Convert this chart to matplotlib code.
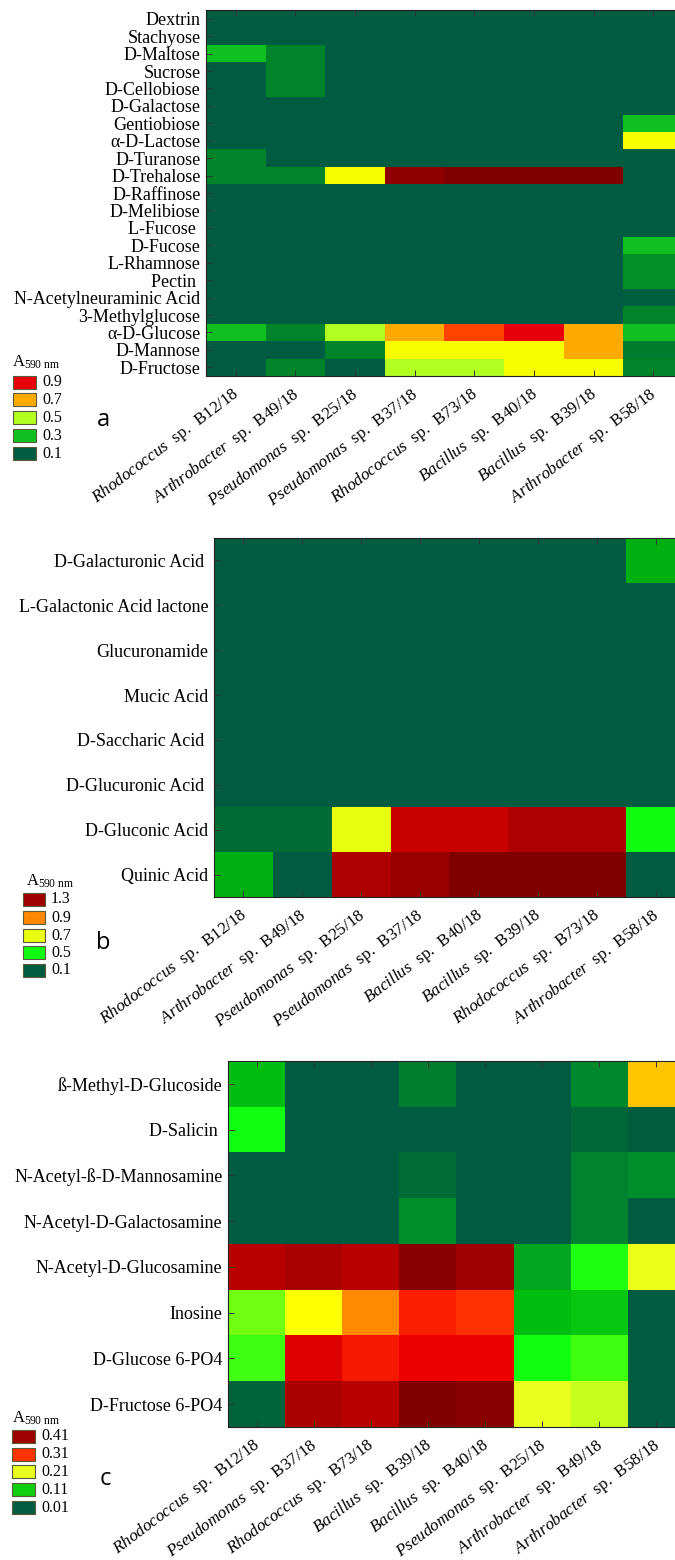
import numpy as np
import matplotlib
matplotlib.use("Agg")
import matplotlib.pyplot as plt
from matplotlib.colors import LinearSegmentedColormap, Normalize
from matplotlib.patches import Rectangle
from matplotlib.transforms import ScaledTranslation

plt.rcParams["font.family"] = ["Liberation Serif", "DejaVu Serif"]
plt.rcParams["mathtext.fontset"] = "custom"
plt.rcParams["mathtext.rm"] = "Liberation Serif"
plt.rcParams["mathtext.it"] = "Liberation Serif:italic"

# ---------------- data ----------------
rows_a = ["Dextrin", "Stachyose", "D-Maltose", "Sucrose", "D-Cellobiose", "D-Galactose",
          "Gentiobiose", "α-D-Lactose", "D-Turanose", "D-Trehalose", "D-Raffinose",
          "D-Melibiose", "L-Fucose ", "D-Fucose", "L-Rhamnose", "Pectin ",
          "N-Acetylneuraminic Acid", "3-Methylglucose", "α-D-Glucose", "D-Mannose", "D-Fructose"]
genus_a = ["Rhodococcus", "Arthrobacter", "Pseudomonas", "Pseudomonas", "Rhodococcus",
           "Bacillus", "Bacillus", "Arthrobacter"]
strain_a = ["B12/18", "B49/18", "B25/18", "B37/18", "B73/18", "B40/18", "B39/18", "B58/18"]
vals_a = [
    [0.10, 0.10, 0.10, 0.10, 0.10, 0.10, 0.10, 0.10],   # Dextrin
    [0.10, 0.10, 0.10, 0.10, 0.10, 0.10, 0.10, 0.10],   # Stachyose
    [0.30, 0.20, 0.10, 0.10, 0.10, 0.10, 0.10, 0.10],   # D-Maltose
    [0.10, 0.20, 0.10, 0.10, 0.10, 0.10, 0.10, 0.10],   # Sucrose
    [0.10, 0.20, 0.10, 0.10, 0.10, 0.10, 0.10, 0.10],   # D-Cellobiose
    [0.10, 0.10, 0.10, 0.10, 0.10, 0.10, 0.10, 0.10],   # D-Galactose
    [0.10, 0.10, 0.10, 0.10, 0.10, 0.10, 0.10, 0.30],   # Gentiobiose
    [0.10, 0.10, 0.10, 0.10, 0.10, 0.10, 0.10, 0.60],   # a-D-Lactose
    [0.20, 0.10, 0.10, 0.10, 0.10, 0.10, 0.10, 0.10],   # D-Turanose
    [0.20, 0.20, 0.60, 1.05, 1.10, 1.10, 1.10, 0.10],   # D-Trehalose
    [0.10, 0.10, 0.10, 0.10, 0.10, 0.10, 0.10, 0.10],   # D-Raffinose
    [0.10, 0.10, 0.10, 0.10, 0.10, 0.10, 0.10, 0.10],   # D-Melibiose
    [0.10, 0.10, 0.10, 0.10, 0.10, 0.10, 0.10, 0.10],   # L-Fucose
    [0.10, 0.10, 0.10, 0.10, 0.10, 0.10, 0.10, 0.30],   # D-Fucose
    [0.10, 0.10, 0.10, 0.10, 0.10, 0.10, 0.10, 0.22],   # L-Rhamnose
    [0.10, 0.10, 0.10, 0.10, 0.10, 0.10, 0.10, 0.22],   # Pectin
    [0.10, 0.10, 0.10, 0.10, 0.10, 0.10, 0.10, 0.11],   # N-Acetylneuraminic Acid
    [0.10, 0.10, 0.10, 0.10, 0.10, 0.10, 0.10, 0.20],   # 3-Methylglucose
    [0.30, 0.20, 0.50, 0.70, 0.80, 0.90, 0.70, 0.30],   # a-D-Glucose
    [0.10, 0.10, 0.20, 0.60, 0.60, 0.60, 0.70, 0.18],   # D-Mannose
    [0.10, 0.20, 0.10, 0.50, 0.50, 0.60, 0.60, 0.20],   # D-Fructose
]
legend_a = [0.9, 0.7, 0.5, 0.3, 0.1]
anchors_a_v = [0.10, 0.20, 0.30, 0.50, 0.60, 0.70, 0.80, 0.90, 1.00, 1.10]
anchors_a_c = ["#005c40", "#00852a", "#10c020", "#b0ff20", "#f5ff00", "#ffaa00",
               "#ff4500", "#e8000a", "#a00000", "#800000"]

rows_b = ["D-Galacturonic Acid ", "L-Galactonic Acid lactone", "Glucuronamide", "Mucic Acid",
          "D-Saccharic Acid ", "D-Glucuronic Acid ", "D-Gluconic Acid", "Quinic Acid"]
genus_b = ["Rhodococcus", "Arthrobacter", "Pseudomonas", "Pseudomonas", "Bacillus",
           "Bacillus", "Rhodococcus", "Arthrobacter"]
strain_b = ["B12/18", "B49/18", "B25/18", "B37/18", "B40/18", "B39/18", "B73/18", "B58/18"]
vals_b = [
    [0.10, 0.10, 0.10, 0.10, 0.10, 0.10, 0.10, 0.35],
    [0.10, 0.10, 0.10, 0.10, 0.10, 0.10, 0.10, 0.10],
    [0.10, 0.10, 0.10, 0.10, 0.10, 0.10, 0.10, 0.10],
    [0.10, 0.10, 0.10, 0.10, 0.10, 0.10, 0.10, 0.10],
    [0.10, 0.10, 0.10, 0.10, 0.10, 0.10, 0.10, 0.10],
    [0.10, 0.10, 0.10, 0.10, 0.10, 0.10, 0.10, 0.10],
    [0.17, 0.17, 0.70, 1.12, 1.12, 1.20, 1.20, 0.50],
    [0.35, 0.10, 1.20, 1.32, 1.40, 1.40, 1.40, 0.10],
]
legend_b = [1.3, 0.9, 0.7, 0.5, 0.1]
anchors_b_v = [0.10, 0.20, 0.35, 0.50, 0.70, 0.90, 1.00, 1.10, 1.20, 1.30, 1.40]
anchors_b_c = ["#005c40", "#00752e", "#00b010", "#10ff10", "#e8ff10", "#ff8800",
               "#ff2000", "#d00000", "#b00000", "#a00000", "#800000"]

rows_c = ["ß-Methyl-D-Glucoside", "D-Salicin ", "N-Acetyl-ß-D-Mannosamine",
          "N-Acetyl-D-Galactosamine", "N-Acetyl-D-Glucosamine", "Inosine",
          "D-Glucose 6-PO4", "D-Fructose 6-PO4"]
genus_c = ["Rhodococcus", "Pseudomonas", "Rhodococcus", "Bacillus", "Bacillus",
           "Pseudomonas", "Arthrobacter", "Arthrobacter"]
strain_c = ["B12/18", "B37/18", "B73/18", "B39/18", "B40/18", "B25/18", "B49/18", "B58/18"]
vals_c = [
    [0.100, 0.010, 0.010, 0.055, 0.010, 0.010, 0.065, 0.255],
    [0.130, 0.010, 0.010, 0.010, 0.010, 0.010, 0.030, 0.015],
    [0.010, 0.010, 0.010, 0.040, 0.010, 0.010, 0.060, 0.070],
    [0.010, 0.010, 0.010, 0.070, 0.010, 0.010, 0.060, 0.010],
    [0.385, 0.400, 0.385, 0.430, 0.410, 0.085, 0.135, 0.215],
    [0.160, 0.240, 0.270, 0.325, 0.310, 0.100, 0.105, 0.010],
    [0.145, 0.360, 0.330, 0.350, 0.350, 0.130, 0.145, 0.010],
    [0.025, 0.400, 0.385, 0.440, 0.430, 0.210, 0.195, 0.010],
]
legend_c = [0.41, 0.31, 0.21, 0.11, 0.01]
anchors_c_v = [0.01, 0.04, 0.07, 0.10, 0.11, 0.13, 0.16, 0.21, 0.24, 0.27, 0.31, 0.35,
               0.38, 0.41, 0.44]
anchors_c_c = ["#005c40", "#006e35", "#00902a", "#00c010", "#10d010", "#10ff10", "#70ff10",
               "#e8ff20", "#ffff00", "#ff8800", "#ff3300", "#f00000", "#c00000", "#a00000",
               "#800000"]

# ---------------- drawing ----------------
W, H = 675, 1560
fig = plt.figure(figsize=(W / 100, H / 100), dpi=100)


def make_cmap(vs, cs):
    vmin, vmax = vs[0], vs[-1]
    pos = [(v - vmin) / (vmax - vmin) for v in vs]
    return LinearSegmentedColormap.from_list("c", list(zip(pos, cs))), Normalize(vmin, vmax)


def panel(box, rows, genus, strain, vals, anchors_v, anchors_c, legend_vals, leg, letter):
    l, t, r, b = box
    ax = fig.add_axes([l / W, 1 - b / H, (r - l) / W, (b - t) / H])
    cmap, norm = make_cmap(anchors_v, anchors_c)
    ax.imshow(np.array(vals), cmap=cmap, norm=norm, aspect="auto", interpolation="nearest")
    ax.set_yticks(range(len(rows)))
    ax.set_yticklabels(rows, fontsize=13)
    ax.set_xticks(range(len(genus)))
    labels = [r"$\mathit{%s}$  sp.  %s" % (g, s) for g, s in zip(genus, strain)]
    ax.set_xticklabels(labels, rotation=37, ha="right", fontsize=12.3)
    ax.tick_params(direction="in", top=True, right=True, length=4, width=0.7,
                   color="#333333", pad=4)
    ax.tick_params(axis="x", pad=6)
    off = ScaledTranslation(8 / 100, 0, fig.dpi_scale_trans)
    for lab in ax.get_xticklabels():
        lab.set_transform(lab.get_transform() + off)
    for s in ax.spines.values():
        s.set_linewidth(0.8)
        s.set_color("#222222")
    # legend
    x0, x1, tops, ph, tx, title_xy = leg
    fig.text(title_xy[0] / W, 1 - title_xy[1] / H, r"A$_{\rm 590\ nm}$", fontsize=12,
             ha="left", va="center")
    for v, tp in zip(legend_vals, tops):
        fig.patches.append(Rectangle((x0 / W, 1 - (tp + ph) / H), (x1 - x0) / W, ph / H,
                                     transform=fig.transFigure, facecolor=cmap(norm(v)),
                                     edgecolor="#5a5a3a", linewidth=0.8))
        fig.text(tx / W, 1 - (tp + ph / 2) / H, ("%g" % v), fontsize=11.5,
                 ha="left", va="center")
    fig.text(letter[1] / W, 1 - letter[2] / H, letter[0], fontsize=17,
             family=["Open Sans", "DejaVu Sans"], ha="center", va="center")


panel((206, 10, 683, 376), rows_a, genus_a, strain_a, vals_a, anchors_a_v, anchors_a_c,
      legend_a, (13, 36, [376, 393, 411, 429, 447], 13, 42, (12, 362)), ("a", 103, 420))
panel((214, 538, 685, 897), rows_b, genus_b, strain_b, vals_b, anchors_b_v, anchors_b_c,
      legend_b, (23, 45, [893, 911, 929, 946, 964], 13, 51, (26, 881)), ("b", 103, 943))
panel((228, 1061, 685, 1427), rows_c, genus_c, strain_c, vals_c, anchors_c_v, anchors_c_c,
      legend_c, (12, 35, [1430, 1448, 1465, 1483, 1501], 13, 41, (12, 1418)), ("c", 105, 1479))

fig.savefig("out.png", dpi=100)
